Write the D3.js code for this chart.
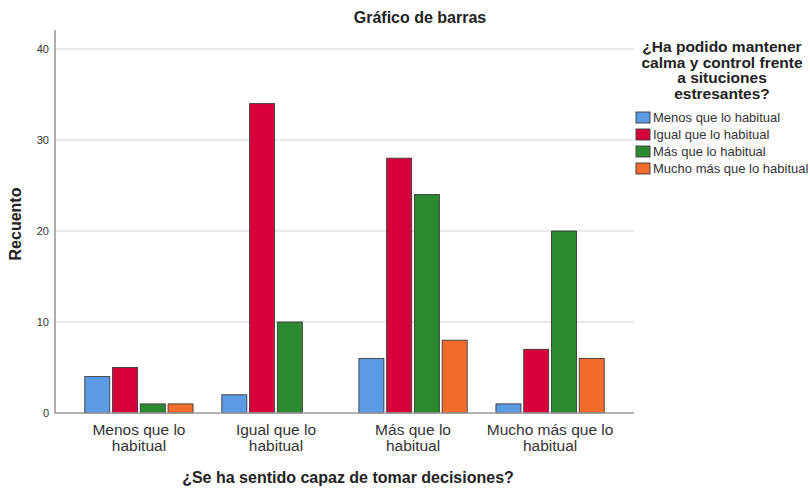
<!DOCTYPE html>
<html><head><meta charset="utf-8">
<script src="https://cdn.jsdelivr.net/npm/d3@7"></script>
<style>body{margin:0;background:#fff}svg{display:block;font-family:"Liberation Sans",Arial,sans-serif}</style>
</head><body>
<script>
const categories = [["Menos que lo","habitual"],["Igual que lo","habitual"],["Más que lo","habitual"],["Mucho más que lo","habitual"]];
const seriesNames = ["Menos que lo habitual","Igual que lo habitual","Más que lo habitual","Mucho más que lo habitual"];
const seriesColors = ["#5a9be4","#d8003a","#2b8a2f","#f26c2b"];
const menosValues = [4, 2, 6, 1];
const igualValues = [5, 34, 28, 7];
const masValues = [1, 10, 24, 20];
const muchoValues = [1, 0, 8, 6];
const yTicks = [0, 10, 20, 30, 40];
const legendTitle = ["¿Ha podido mantener","calma y control frente","a situciones","estresantes?"];

const seriesValues = [menosValues, igualValues, masValues, muchoValues];
const W = 810, H = 488;
const svg = d3.select("body").append("svg").attr("width", W).attr("height", H);
svg.append("rect").attr("width", W).attr("height", H).attr("fill", "#fff");

const x0 = d3.scaleBand().domain(d3.range(categories.length)).range([56, 633]).padding(0.21);
const x1 = d3.scaleBand().domain(d3.range(seriesNames.length)).range([0, x0.bandwidth()]).paddingInner(0.1);
const y = d3.scaleLinear().domain([0, 40]).range([413, 49]);

// gridlines
svg.append("g").selectAll("line").data(yTicks.filter(d => d > 0)).join("line")
  .attr("x1", 55).attr("x2", 634).attr("y1", d => y(d)).attr("y2", d => y(d))
  .attr("stroke", "#d2d2d2").attr("stroke-width", 1.2);

// y tick labels
svg.append("g").selectAll("text").data(yTicks).join("text")
  .attr("x", 49).attr("y", d => y(d) + 4).attr("text-anchor", "end")
  .attr("font-size", 11).attr("fill", "#333").text(d => d);

// bars
const groups = svg.append("g").selectAll("g").data(categories).join("g")
  .attr("transform", (d, i) => `translate(${x0(i)},0)`);
groups.selectAll("rect").data((d, i) => seriesValues.map((s, k) => ({k, v: s[i]})).filter(e => e.v > 0)).join("rect")
  .attr("x", e => x1(e.k)).attr("width", x1.bandwidth())
  .attr("y", e => y(e.v)).attr("height", e => y(0) - y(e.v))
  .attr("fill", e => seriesColors[e.k]).attr("stroke", "#3a3a3a").attr("stroke-width", 0.9);

// axes lines
svg.append("line").attr("x1", 55).attr("x2", 55).attr("y1", 30).attr("y2", 413.5).attr("stroke", "#9a9a9a").attr("stroke-width", 1.6);
svg.append("line").attr("x1", 55).attr("x2", 634).attr("y1", 413).attr("y2", 413).attr("stroke", "#9a9a9a").attr("stroke-width", 1.6);

// x labels
const xl = svg.append("g").selectAll("text").data(categories).join("text")
  .attr("text-anchor", "middle").attr("font-size", 15.5).attr("fill", "#333")
  .attr("transform", (d, i) => `translate(${x0(i) + x0.bandwidth() / 2},0)`);
xl.selectAll("tspan").data(d => d).join("tspan").attr("x", 0).attr("y", (d, j) => 435 + j * 15.5).text(d => d);

// titles
svg.append("text").attr("x", 420).attr("y", 23).attr("text-anchor", "middle").attr("font-size", 16).attr("font-weight", "bold").attr("fill", "#222").text("Gráfico de barras");
svg.append("text").attr("transform", "translate(21,224) rotate(-90)").attr("text-anchor", "middle").attr("font-size", 16).attr("font-weight", "bold").attr("fill", "#222").text("Recuento");
svg.append("text").attr("x", 348).attr("y", 483).attr("text-anchor", "middle").attr("font-size", 16).attr("font-weight", "bold").attr("fill", "#222").text("¿Se ha sentido capaz de tomar decisiones?");

// legend
svg.append("g").selectAll("text").data(legendTitle).join("text")
  .attr("x", 722).attr("y", (d, i) => 52 + i * 15.5).attr("text-anchor", "middle")
  .attr("font-size", 15.5).attr("font-weight", "bold").attr("fill", "#222").text(d => d);
const li = svg.append("g").selectAll("g").data(seriesNames).join("g")
  .attr("transform", (d, i) => `translate(636,${112 + i * 17})`);
li.append("rect").attr("width", 14).attr("height", 11).attr("fill", (d, i) => seriesColors[i]).attr("stroke", "#3a3a3a").attr("stroke-width", 0.9);
li.append("text").attr("x", 17).attr("y", 10).attr("font-size", 13).attr("fill", "#333").text(d => d);
</script>
</body></html>
